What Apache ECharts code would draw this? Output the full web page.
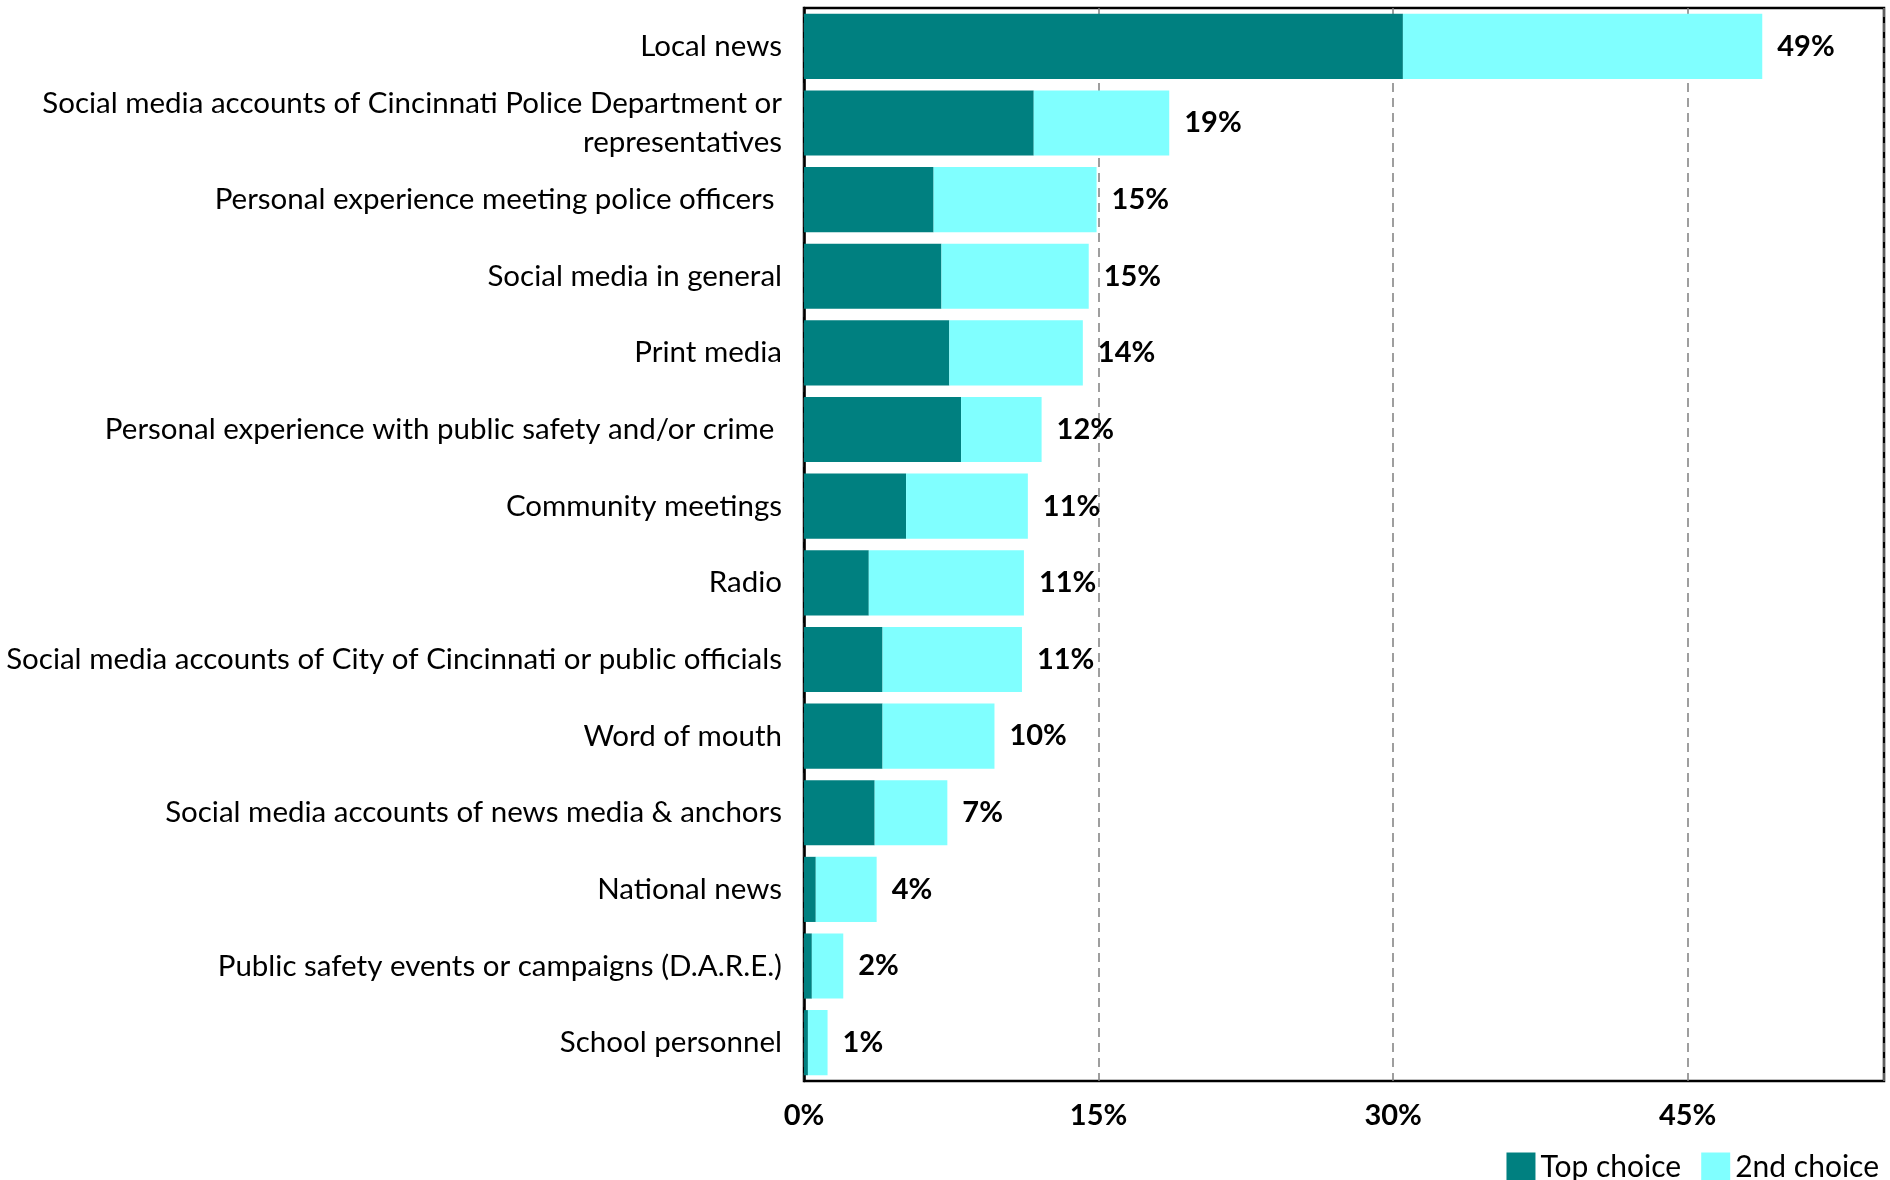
<!DOCTYPE html>
<html>
<head>
<meta charset="utf-8">
<script src="https://cdn.jsdelivr.net/npm/echarts@6/dist/echarts.min.js"></script>
<style>
html,body{margin:0;padding:0;background:#fff;}
#chart{width:1890px;height:1180px;}
</style>
</head>
<body>
<div id="chart"></div>
<script>
const categories = [
  "Local news",
  "Social media accounts of Cincinnati Police Department or\nrepresentatives",
  "Personal experience meeting police officers ",
  "Social media in general",
  "Print media",
  "Personal experience with public safety and/or crime ",
  "Community meetings",
  "Radio",
  "Social media accounts of City of Cincinnati or public officials",
  "Word of mouth",
  "Social media accounts of news media & anchors",
  "National news",
  "Public safety events or campaigns (D.A.R.E.)",
  "School personnel"
];
const topChoice = [30.5, 11.7, 6.6, 7.0, 7.4, 8.0, 5.2, 3.3, 4.0, 4.0, 3.6, 0.6, 0.4, 0.2];
const secondChoice = [18.3, 6.9, 8.3, 7.5, 6.8, 4.1, 6.2, 7.9, 7.1, 5.7, 3.7, 3.1, 1.6, 1.0];
const totalLabels = ["49%", "19%", "15%", "15%", "14%", "12%", "11%", "11%", "11%", "10%", "7%", "4%", "2%", "1%"];
const xTicks = [0, 15, 30, 45];

const FONT = "Lato, 'Open Sans', sans-serif";
const chart = echarts.init(document.getElementById('chart'), null, {renderer: 'canvas'});
chart.setOption({
  animation: false,
  backgroundColor: '#ffffff',
  textStyle: {fontFamily: FONT, color: '#000'},
  grid: {
    left: 804, top: 8, right: 6, bottom: 99,
    show: true, borderColor: '#000', borderWidth: 2.5,
    containLabel: false
  },
  legend: {
    right: 6, top: 1147,
    itemWidth: 29, itemHeight: 29, itemGap: 20,
    icon: 'rect',
    textStyle: {fontFamily: FONT, fontSize: 30, color: '#000', padding: [0, 0, 0, 0]},
    data: ['Top choice', '2nd choice']
  },
  xAxis: {
    type: 'value', min: 0, max: 55, interval: 15,
    axisLine: {show: false}, axisTick: {show: false},
    splitLine: {show: true, lineStyle: {color: '#7f7f7f', type: [9, 6], width: 1.5}},
    axisLabel: {
      fontFamily: FONT, fontSize: 29, fontWeight: 'bold', color: '#000', margin: 20,
      showMaxLabel: false,
      formatter: function (v) { return xTicks.indexOf(v) >= 0 ? v + '%' : ''; }
    }
  },
  yAxis: {
    type: 'category', data: categories, inverse: true,
    axisLine: {show: true, lineStyle: {color: '#000', width: 2.5}},
    axisTick: {show: false},
    axisLabel: {fontFamily: FONT, fontSize: 29.5, color: '#000', margin: 22, lineHeight: 39, align: 'right'}
  },
  series: [
    {
      name: 'Top choice', type: 'bar', stack: 'total', data: topChoice,
      barCategoryGap: '15%',
      itemStyle: {color: '#008080'}
    },
    {
      name: '2nd choice', type: 'bar', stack: 'total', data: secondChoice,
      barCategoryGap: '15%',
      itemStyle: {color: '#80ffff'},
      label: {
        show: true, position: 'right', distance: 15,
        fontFamily: FONT, fontSize: 29, fontWeight: 'bold', color: '#000',
        formatter: function (p) { return totalLabels[p.dataIndex]; }
      }
    }
  ]
});
</script>
</body>
</html>
